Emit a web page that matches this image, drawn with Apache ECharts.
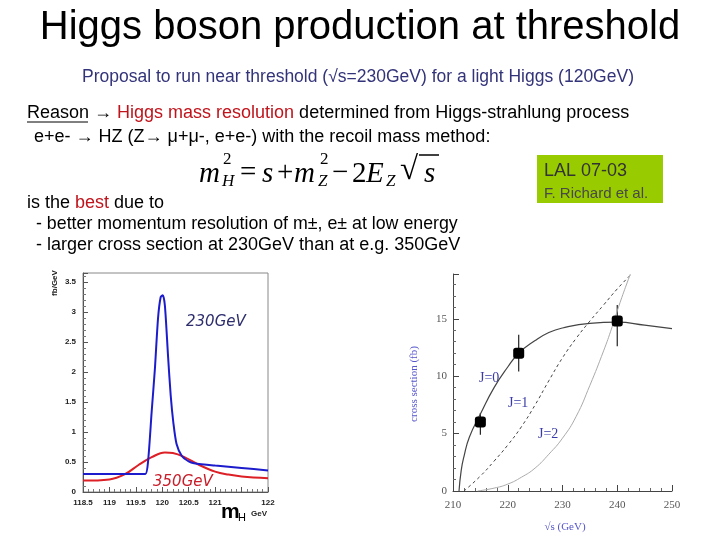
<!DOCTYPE html>
<html>
<head>
<meta charset="utf-8">
<script src="https://cdn.jsdelivr.net/npm/echarts@6/dist/echarts.min.js"></script>
<style>
  html, body { margin: 0; padding: 0; background: #fff; }
  #chart { width: 720px; height: 540px; }
</style>
</head>
<body>
<div id="chart"></div>
<script>
// left panel: recoil mass spectrum (fb/GeV vs mH)
const mhLabels = [118.5, 119, 119.5, 120, 120.5, 121, 122];
const spec230 = [
  [118.5, 0.3], [119, 0.3], [119.5, 0.3], [119.68, 0.3], [119.73, 0.5],
  [119.8, 1.35], [119.86, 2.05], [119.92, 2.9], [119.97, 3.25], [120.01, 3.28],
  [120.05, 3.1], [120.11, 2.25], [120.16, 1.6], [120.21, 1.15], [120.27, 0.8],
  [120.37, 0.6], [120.5, 0.51], [120.6, 0.48], [121, 0.44], [121.5, 0.4], [122, 0.36]
];
const spec350 = [
  [118.5, 0.19], [119, 0.21], [119.3, 0.3], [119.55, 0.45], [119.8, 0.58],
  [120.05, 0.66], [120.2, 0.65], [120.4, 0.59], [120.7, 0.45], [121, 0.34],
  [121.25, 0.29], [121.5, 0.26], [122, 0.23]
];

// right panel: threshold scan (cross section in fb vs sqrt(s))
const xsJ0 = [
  [211.1, 0], [211.5, 1.8], [212, 3.0], [213, 4.7], [215, 6.7], [217.5, 9.0],
  [220, 10.8], [222, 12.0], [225, 13.1], [227.5, 13.8], [230, 14.2], [235, 14.6],
  [240, 14.7], [245, 14.45], [250, 14.15]
];
const xsJ1 = [
  [212, 0], [215, 1.3], [217.5, 2.6], [220, 4.0], [222.5, 5.6], [225, 7.5],
  [227.5, 9.6], [230, 11.6], [232.5, 13.3], [235, 14.8], [237.5, 16.2],
  [240, 17.6], [242.6, 18.9]
];
const xsJ2 = [
  [214.5, 0], [217.5, 0.25], [220, 0.6], [222.5, 1.2], [225, 2.0], [227.5, 3.2],
  [230, 4.6], [232.5, 6.5], [235, 9.2], [237.5, 12.2], [239, 14.2], [240.5, 16.4], [242.4, 18.9]
];
const scanX = [215, 222, 240];
const scanY = [6, 12, 14.8];
const scanLo = [4.9, 10.4, 12.6];
const scanHi = [6.8, 13.6, 16.2];

const chart = echarts.init(document.getElementById('chart'));

const sans = 'Liberation Sans, Arial, sans-serif';
const serif = 'Liberation Serif, Times New Roman, serif';
const red = '#c0141c';

function txt(x, y, text, st) {
  return {
    type: 'text', x: x, y: y, silent: true,
    style: Object.assign({ text: text, fontFamily: sans, fill: '#000',
      verticalAlign: 'middle', textVerticalAlign: 'middle' }, st || {})
  };
}

// formula pieces, serif
const fbig = { fontFamily: serif, fontSize: 29 };
const fsmall = { fontFamily: serif, fontSize: 17 };
const it = { fontStyle: 'italic' };

const graphics = [
  txt(360, 28, 'Higgs boson production at threshold', { fontSize: 40, align: 'center', textAlign: 'center' }),
  txt(358, 77, 'Proposal to run near threshold (√s=230GeV) for a light Higgs (120GeV)',
    { fontSize: 17.5, fill: '#33337a', align: 'center', textAlign: 'center' }),
  txt(27, 113, '{u|Reason} → {r|Higgs mass resolution} determined from Higgs-strahlung process', {
    fontSize: 18, rich: {
      u: { fontSize: 18, fontFamily: sans, fill: '#000' },
      r: { fontSize: 18, fontFamily: sans, fill: red }
    }
  }),
  { type: 'line', silent: true, shape: { x1: 27, y1: 122, x2: 88, y2: 122 }, style: { stroke: '#000', lineWidth: 1 } },
  txt(34, 137, 'e+e- → HZ (Z→ μ+μ-, e+e-) with the recoil mass method:', { fontSize: 18 }),

  // m_H^2 = s + m_Z^2 - 2 E_Z sqrt(s)
  txt(199, 174, 'm', Object.assign({}, fbig, it)),
  txt(223, 160, '2', fsmall),
  txt(222, 182, 'H', Object.assign({}, fsmall, it)),
  txt(240, 173, '=', fbig),
  txt(262, 174, 's', Object.assign({}, fbig, it)),
  txt(277, 173, '+', fbig),
  txt(294, 174, 'm', Object.assign({}, fbig, it)),
  txt(320, 160, '2', fsmall),
  txt(318, 182, 'Z', Object.assign({}, fsmall, it)),
  txt(332, 173, '−', fbig),
  txt(352, 174, '2', fbig),
  txt(366, 174, 'E', Object.assign({}, fbig, it)),
  txt(386, 182, 'Z', Object.assign({}, fsmall, it)),
  txt(400, 170, '√', Object.assign({}, fbig, { fontSize: 33 })),
  { type: 'line', silent: true, shape: { x1: 419, y1: 155, x2: 439, y2: 155 }, style: { stroke: '#000', lineWidth: 1.5 } },
  txt(424, 174, 's', Object.assign({}, fbig, it)),

  { type: 'rect', silent: true, shape: { x: 537, y: 155, width: 126, height: 48 }, style: { fill: '#99cc00' } },
  txt(544, 171, 'LAL 07-03', { fontSize: 18, fill: '#333' }),
  txt(544, 194, 'F. Richard et al.', { fontSize: 15, fill: '#484848' }),

  txt(27, 203, 'is the {r|best} due to', {
    fontSize: 18, rich: { r: { fontSize: 18, fontFamily: sans, fill: red } }
  }),
  txt(36, 224, '- better momentum resolution of m±, e± at low energy', { fontSize: 17.8 }),
  txt(36, 245, '- larger cross section at 230GeV than at e.g. 350GeV', { fontSize: 18 }),

  // left panel annotations
  { type: 'text', x: 55, y: 283, rotation: Math.PI / 2, silent: true,
    style: { text: 'fb/GeV', fontFamily: sans, fontSize: 8, fontWeight: 'bold', fill: '#222',
      align: 'center', textAlign: 'center', verticalAlign: 'middle', textVerticalAlign: 'middle' } },
  txt(186, 322, '230GeV', { fontSize: 15, fontStyle: 'italic', fontFamily: 'DejaVu Sans, sans-serif', fill: '#2d2d6e' }),
  txt(153, 482, '350GeV', { fontSize: 15, fontStyle: 'italic', fontFamily: 'DejaVu Sans, sans-serif', fill: '#c81e2a' }),
  txt(221, 512, 'm', { fontSize: 21, fontWeight: 'bold' }),
  txt(238, 518, 'H', { fontSize: 11 }),
  txt(251, 514, 'GeV', { fontSize: 8, fontWeight: 'bold', fill: '#222' }),

  // right panel annotations
  txt(479, 378, 'J=0', { fontFamily: serif, fontSize: 14, fill: '#3a3aa8' }),
  txt(508, 403, 'J=1', { fontFamily: serif, fontSize: 14, fill: '#3a3aa8' }),
  txt(538, 434, 'J=2', { fontFamily: serif, fontSize: 14, fill: '#3a3aa8' }),
  txt(565, 527, '√s (GeV)', { fontFamily: serif, fontSize: 11, fill: '#5555cc', align: 'center', textAlign: 'center' }),
  { type: 'text', x: 414, y: 384, rotation: Math.PI / 2, silent: true,
    style: { text: 'cross section (fb)', fontFamily: serif, fontSize: 11, fill: '#5555cc',
      align: 'center', textAlign: 'center', verticalAlign: 'middle', textVerticalAlign: 'middle' } }
];

const leftAxisLabel = { fontSize: 8, fontWeight: 'bold', color: '#222', fontFamily: sans };
const rightAxisLabel = { fontSize: 11, color: '#555', fontFamily: serif };

const option = {
  backgroundColor: '#fff',
  animation: false,
  grid: [
    { left: 83, top: 273, width: 185, height: 219, show: true, borderColor: '#888', borderWidth: 1 },
    { left: 453, top: 274, width: 219, height: 217 }
  ],
  xAxis: [
    {
      gridIndex: 0, type: 'value', min: 118.5, max: 122, interval: 0.5,
      axisLine: { lineStyle: { color: '#555' } },
      axisTick: { inside: true, length: 5, lineStyle: { color: '#555' } },
      minorTick: { show: true, splitNumber: 5, length: 3, lineStyle: { color: '#777' } },
      splitLine: { show: false },
      axisLabel: Object.assign({ margin: 7,
        formatter: v => mhLabels.indexOf(v) >= 0 ? String(v) : '' }, leftAxisLabel)
    },
    {
      gridIndex: 1, type: 'value', min: 210, max: 250, interval: 10,
      axisLine: { lineStyle: { color: '#444' } },
      axisTick: { inside: true, length: 6, lineStyle: { color: '#444' } },
      minorTick: { show: true, splitNumber: 5, length: 3, lineStyle: { color: '#666' } },
      splitLine: { show: false },
      axisLabel: Object.assign({ margin: 9 }, rightAxisLabel)
    }
  ],
  yAxis: [
    {
      gridIndex: 0, type: 'value', min: 0, max: 3.65, interval: 0.5,
      axisLine: { show: true, lineStyle: { color: '#555' } },
      axisTick: { show: true, inside: true, length: 5, lineStyle: { color: '#555' } },
      minorTick: { show: true, splitNumber: 5, length: 3, lineStyle: { color: '#777' } },
      splitLine: { show: false },
      axisLabel: Object.assign({ margin: 7, showMaxLabel: false }, leftAxisLabel)
    },
    {
      gridIndex: 1, type: 'value', min: 0, max: 18.9, interval: 5,
      axisLine: { show: true, lineStyle: { color: '#444' } },
      axisTick: { show: true, inside: true, length: 6, lineStyle: { color: '#444' } },
      minorTick: { show: true, splitNumber: 5, length: 3, lineStyle: { color: '#666' } },
      splitLine: { show: false },
      axisLabel: Object.assign({ margin: 6, showMaxLabel: false }, rightAxisLabel)
    }
  ],
  series: [
    {
      name: '350GeV', type: 'line', xAxisIndex: 0, yAxisIndex: 0, data: spec350,
      smooth: 0.4, showSymbol: false,
      lineStyle: { color: '#dd1f26', width: 2 }
    },
    {
      name: '230GeV', type: 'line', xAxisIndex: 0, yAxisIndex: 0, data: spec230,
      smooth: 0.25, showSymbol: false,
      lineStyle: { color: '#1c1ccc', width: 2 }
    },
    {
      name: 'J=0', type: 'line', xAxisIndex: 1, yAxisIndex: 1, data: xsJ0,
      smooth: 0.5, showSymbol: false,
      lineStyle: { color: '#444', width: 1.2 }
    },
    {
      name: 'J=1', type: 'line', xAxisIndex: 1, yAxisIndex: 1, data: xsJ1,
      smooth: 0.5, showSymbol: false,
      lineStyle: { color: '#444', width: 1, type: [3, 3] }
    },
    {
      name: 'J=2', type: 'line', xAxisIndex: 1, yAxisIndex: 1, data: xsJ2,
      smooth: 0.5, showSymbol: false,
      lineStyle: { color: '#aaa', width: 1 }
    },
    {
      name: 'errors', type: 'custom', xAxisIndex: 1, yAxisIndex: 1,
      data: scanX.map((x, i) => [x, scanLo[i], scanHi[i]]),
      renderItem: (params, api) => {
        const a = api.coord([api.value(0), api.value(1)]);
        const b = api.coord([api.value(0), api.value(2)]);
        return { type: 'line', shape: { x1: a[0], y1: a[1], x2: b[0], y2: b[1] },
          style: { stroke: '#222', lineWidth: 1.2 } };
      }
    },
    {
      name: 'scan', type: 'scatter', xAxisIndex: 1, yAxisIndex: 1, z: 5,
      data: scanX.map((x, i) => [x, scanY[i]]),
      symbol: 'roundRect', symbolSize: 11,
      itemStyle: { color: '#000', opacity: 1 }
    }
  ],
  graphic: graphics
};

chart.setOption(option);
</script>
</body>
</html>
